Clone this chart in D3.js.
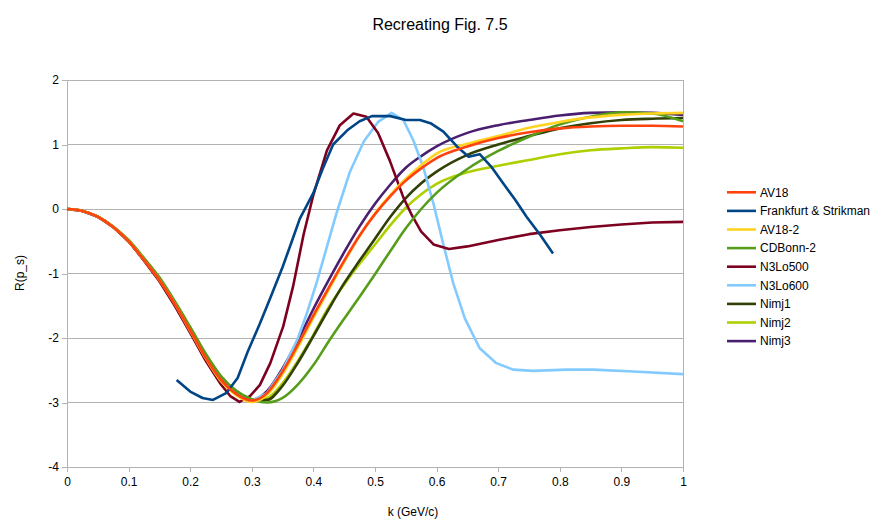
<!DOCTYPE html>
<html><head><meta charset="utf-8">
<script src="https://cdn.jsdelivr.net/npm/d3@7"></script>
<style>body{margin:0;background:#fff;font-family:"Liberation Sans",Arial,sans-serif;}</style>
</head><body><svg id="c" width="881" height="526"></svg>
<script>
// ---- data ----
const seriesNames = ["AV18","Frankfurt & Strikman","AV18-2","CDBonn-2","N3Lo500","N3Lo600","Nimj1","Nimj2","Nimj3"];
const seriesColors = ["#ff420e","#004586","#ffd320","#579d1c","#7e0021","#83caff","#314004","#aecf00","#4b1f6f"];
const xTicks = [0,0.1,0.2,0.3,0.4,0.5,0.6,0.7,0.8,0.9,1];
const yTicks = [-4,-3,-2,-1,0,1,2];

const kSmooth = [0,0.025,0.05,0.075,0.1,0.125,0.15,0.175,0.2,0.225,0.25,0.275,0.3,0.325,0.35,0.375,0.4,0.425,0.45,0.475,0.5,0.525,0.55,0.575,0.6,0.65,0.7,0.75,0.8,0.85,0.9,0.95,1.0];
const av18   = [0,-0.03,-0.12,-0.28,-0.5,-0.79,-1.1,-1.47,-1.88,-2.3,-2.65,-2.87,-2.97,-2.85,-2.52,-2.1,-1.65,-1.22,-0.8,-0.41,-0.08,0.2,0.44,0.63,0.79,0.97,1.1,1.19,1.25,1.28,1.29,1.29,1.28];
const av18_2 = [0,-0.03,-0.12,-0.28,-0.5,-0.79,-1.1,-1.47,-1.89,-2.31,-2.67,-2.89,-2.99,-2.88,-2.56,-2.14,-1.69,-1.25,-0.82,-0.42,-0.07,0.22,0.47,0.68,0.86,1.01,1.13,1.26,1.35,1.42,1.46,1.48,1.49];
const cdbonn = [0,-0.03,-0.12,-0.27,-0.48,-0.76,-1.06,-1.43,-1.83,-2.24,-2.59,-2.82,-2.95,-3.0,-2.93,-2.72,-2.42,-2.05,-1.7,-1.36,-1.01,-0.65,-0.3,0.0,0.25,0.62,0.9,1.12,1.31,1.43,1.5,1.48,1.36];
const nimj1  = [0,-0.03,-0.12,-0.28,-0.5,-0.79,-1.1,-1.47,-1.88,-2.3,-2.65,-2.86,-2.97,-2.96,-2.74,-2.38,-1.97,-1.55,-1.15,-0.8,-0.46,-0.12,0.17,0.4,0.58,0.84,1.0,1.13,1.25,1.33,1.38,1.4,1.41];
const nimj2  = [0,-0.03,-0.12,-0.28,-0.5,-0.79,-1.1,-1.47,-1.88,-2.3,-2.65,-2.86,-2.97,-2.93,-2.7,-2.35,-1.95,-1.52,-1.17,-0.85,-0.55,-0.25,0.02,0.23,0.39,0.57,0.67,0.76,0.85,0.91,0.94,0.96,0.95];
const nimj3  = [0,-0.03,-0.12,-0.28,-0.5,-0.79,-1.1,-1.47,-1.88,-2.3,-2.65,-2.86,-2.96,-2.82,-2.47,-2.03,-1.55,-1.1,-0.67,-0.27,0.08,0.38,0.64,0.82,0.97,1.18,1.3,1.38,1.45,1.49,1.5,1.49,1.46];

const kN500 = [0,0.025,0.05,0.075,0.1,0.125,0.15,0.175,0.2,0.225,0.25,0.265,0.28,0.297,0.313,0.33,0.351,0.367,0.384,0.4,0.422,0.443,0.465,0.486,0.505,0.524,0.546,0.56,0.575,0.595,0.62,0.65,0.7,0.75,0.8,0.85,0.9,0.95,1.0];
const n3lo500 = [0,-0.03,-0.12,-0.28,-0.5,-0.8,-1.12,-1.5,-1.92,-2.35,-2.72,-2.9,-2.99,-2.9,-2.73,-2.39,-1.82,-1.2,-0.4,0.22,0.91,1.3,1.48,1.43,1.18,0.75,0.18,-0.1,-0.35,-0.55,-0.62,-0.58,-0.48,-0.39,-0.33,-0.28,-0.24,-0.21,-0.2];

const kN600 = [0,0.025,0.05,0.075,0.1,0.125,0.15,0.175,0.2,0.225,0.25,0.275,0.3,0.325,0.35,0.375,0.39,0.405,0.42,0.438,0.459,0.482,0.505,0.527,0.546,0.562,0.578,0.595,0.611,0.627,0.646,0.67,0.697,0.724,0.757,0.811,0.854,0.919,1.0];
const n3lo600 = [0,-0.03,-0.12,-0.28,-0.5,-0.79,-1.1,-1.47,-1.88,-2.3,-2.65,-2.87,-2.97,-2.85,-2.5,-2.0,-1.6,-1.15,-0.65,-0.05,0.57,1.05,1.35,1.49,1.38,1.07,0.66,0.08,-0.55,-1.15,-1.7,-2.16,-2.39,-2.49,-2.51,-2.49,-2.49,-2.52,-2.56];

const kFS = [0.178,0.2,0.22,0.237,0.259,0.277,0.293,0.313,0.33,0.35,0.365,0.378,0.4,0.415,0.432,0.455,0.475,0.495,0.525,0.55,0.573,0.59,0.611,0.633,0.652,0.67,0.69,0.708,0.727,0.746,0.768,0.789];
const frankfurt = [-2.65,-2.83,-2.93,-2.96,-2.85,-2.62,-2.22,-1.78,-1.38,-0.9,-0.5,-0.15,0.25,0.62,1.0,1.22,1.36,1.44,1.44,1.38,1.38,1.33,1.2,0.97,0.81,0.85,0.64,0.4,0.15,-0.12,-0.4,-0.69];

const seriesK = [kSmooth,kFS,kSmooth,kSmooth,kN500,kN600,kSmooth,kSmooth,kSmooth];
const seriesV = [av18,frankfurt,av18_2,cdbonn,n3lo500,n3lo600,nimj1,nimj2,nimj3];
const smoothFlag = [true,false,true,true,false,false,true,true,true];

// ---- chart ----
const svg = d3.select("#c");
const x = d3.scaleLinear().domain([0,1]).range([67,683]);
const y = d3.scaleLinear().domain([-4,2]).range([467,80]);
const grid = "#b3b3b3";
const FONT = "Liberation Sans, Arial, sans-serif";

// grid lines
svg.append("g").selectAll("line").data(yTicks).join("line")
  .attr("x1",x(0)).attr("x2",x(1)).attr("y1",d=>y(d)).attr("y2",d=>y(d))
  .attr("stroke",grid).attr("stroke-width",1).attr("shape-rendering","crispEdges");

// axes
const yAxis = d3.axisLeft(y).tickValues(yTicks).tickSize(5).tickSizeOuter(0).tickFormat(d=>String(d));
const gy = svg.append("g").attr("transform",`translate(${x(0)},0)`).call(yAxis);
const xAxis = d3.axisBottom(x).tickValues(xTicks).tickSize(5).tickSizeOuter(0).tickFormat(d=>String(d));
const gx = svg.append("g").attr("transform",`translate(0,${y(-4)})`).call(xAxis);
[gx,gy].forEach(g=>{
  g.selectAll(".domain").attr("stroke",grid).attr("shape-rendering","crispEdges");
  g.selectAll(".tick line").attr("stroke",grid).attr("shape-rendering","crispEdges");
  g.selectAll("text").attr("fill","#000").style("font-family",FONT).style("font-size","12px");
});
gx.selectAll("text").attr("dy","0.71em").attr("y",10);
gy.selectAll("text").attr("x",-8);
// right border
svg.append("line").attr("x1",x(1)).attr("x2",x(1)).attr("y1",y(2)).attr("y2",y(-4)).attr("stroke",grid).attr("shape-rendering","crispEdges");

// series (drawn in reverse so AV18 on top)
const order = d3.range(seriesNames.length).reverse();
order.forEach(i=>{
  const pts = seriesK[i].map((k,j)=>[k,seriesV[i][j]]);
  const line = d3.line().x(d=>x(d[0])).y(d=>y(d[1])).curve(smoothFlag[i]?d3.curveMonotoneX:d3.curveLinear);
  svg.append("path").datum(pts).attr("d",line).attr("fill","none")
    .attr("stroke",seriesColors[i]).attr("stroke-width",2.6).attr("stroke-linejoin","round");
});

// titles
svg.append("text").attr("x",440).attr("y",30).attr("text-anchor","middle")
  .style("font-size","16px").style("font-family",FONT).text("Recreating Fig. 7.5");
svg.append("text").attr("x",413).attr("y",516).attr("text-anchor","middle")
  .style("font-size","12px").style("font-family",FONT).text("k (GeV/c)");
svg.append("text").attr("transform","translate(24,273) rotate(-90)").attr("text-anchor","middle")
  .style("font-size","12px").style("font-family",FONT).text("R(p_s)");

// legend
const lg = svg.append("g");
seriesNames.forEach((n,i)=>{
  const yy = 192.3 + i*18.6;
  lg.append("line").attr("x1",727).attr("x2",756).attr("y1",yy).attr("y2",yy)
    .attr("stroke",seriesColors[i]).attr("stroke-width",2.6);
  lg.append("text").attr("x",760).attr("y",yy).attr("dy","0.35em")
    .style("font-size","12px").style("font-family",FONT).text(n);
});
</script></body></html>
